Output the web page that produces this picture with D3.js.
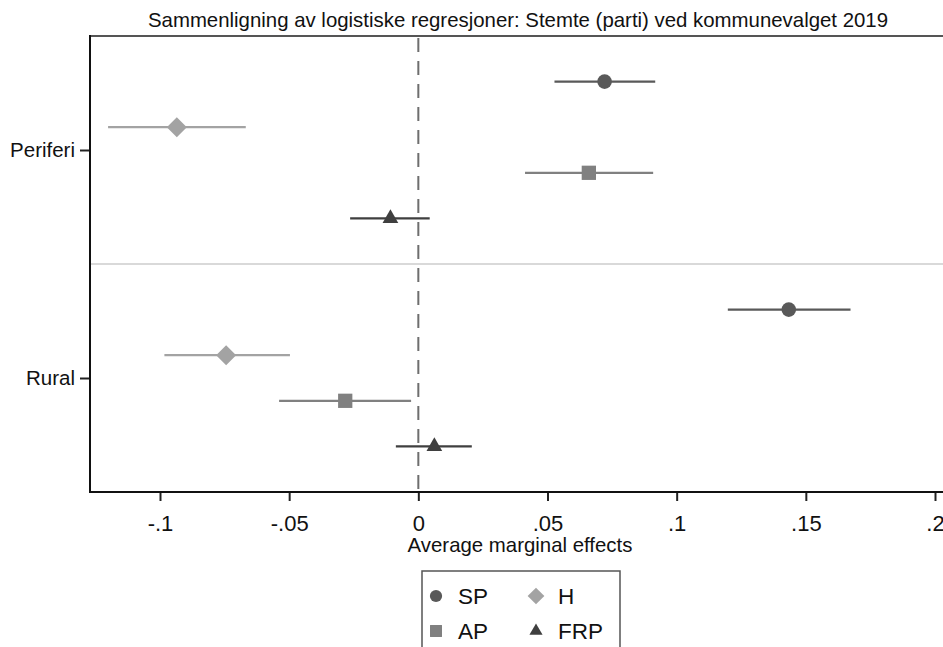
<!DOCTYPE html>
<html>
<head>
<meta charset="utf-8">
<script src="https://cdn.jsdelivr.net/npm/d3@7"></script>
<style>
  html, body { margin: 0; padding: 0; background: #fff; }
  svg { display: block; font-family: "Liberation Sans", Arial, sans-serif; }
</style>
</head>
<body>
<div id="chart"></div>
<script>
// groups on the y axis, parties within each group
const groups = ["Periferi", "Rural"]
const parties = ["SP", "H", "AP", "FRP"]

// average marginal effects and 95% CI, one value per group
const spEst = [0.0721, 0.1434]
const spLo = [0.0527, 0.1198]
const spHi = [0.0917, 0.1673]

const hEst = [-0.0935, -0.0744]
const hLo = [-0.1201, -0.0983]
const hHi = [-0.0668, -0.0497]

const apEst = [0.0660, -0.0283]
const apLo = [0.0413, -0.0539]
const apHi = [0.0909, -0.0028]

const frpEst = [-0.0108, 0.0062]
const frpLo = [-0.0264, -0.0087]
const frpHi = [0.0044, 0.0207]

const xTicks = [-0.1, -0.05, 0, 0.05, 0.1, 0.15, 0.2]
const xTickLabels = ["-.1", "-.05", "0", ".05", ".1", ".15", ".2"]

const series = [
    { name: "SP", est: spEst, lo: spLo, hi: spHi, offset: -0.3, color: "#595959", symbol: d3.symbolCircle, size: 168, rotate: 0 },
    { name: "H", est: hEst, lo: hLo, hi: hHi, offset: -0.1, color: "#a3a3a3", symbol: d3.symbolSquare, size: 200, rotate: 45 },
    { name: "AP", est: apEst, lo: apLo, hi: apHi, offset: 0.1, color: "#808080", symbol: d3.symbolSquare, size: 204, rotate: 0 },
    { name: "FRP", est: frpEst, lo: frpLo, hi: frpHi, offset: 0.3, color: "#3f3f3f", symbol: d3.symbolTriangle, size: 107, rotate: 0 }
]

const width = 943, height = 647
const plot = { left: 90, right: 943, top: 36, bottom: 492 }

const svg = d3.select('#chart')
    .append('svg')
    .attr('width', width)
    .attr('height', height)

const x = d3.scaleLinear()
    .domain([-0.1, 0.2])
    .range([160, 935])
const y = d3.scaleLinear()
    .domain([0.5, 2.5])
    .range([plot.top, plot.bottom])

// title
svg.append('text')
    .attr('x', 518)
    .attr('y', 27)
    .attr('text-anchor', 'middle')
    .attr('font-size', 20.4)
    .attr('fill', '#111')
    .text('Sammenligning av logistiske regresjoner: Stemte (parti) ved kommunevalget 2019')

// separator between groups
svg.append('line')
    .attr('x1', plot.left).attr('x2', plot.right)
    .attr('y1', y(1.5)).attr('y2', y(1.5))
    .attr('stroke', '#d9d9d9')
    .attr('stroke-width', 2)

// top frame
svg.append('line')
    .attr('x1', plot.left).attr('x2', plot.right)
    .attr('y1', plot.top).attr('y2', plot.top)
    .attr('stroke', '#555')
    .attr('stroke-width', 2)

// zero reference line
svg.append('line')
    .attr('x1', x(0)).attr('x2', x(0))
    .attr('y1', plot.top + 2).attr('y2', plot.bottom)
    .attr('stroke', '#6e6e6e')
    .attr('stroke-width', 2)
    .attr('stroke-dasharray', '14,9')

// x axis
const xAxis = g => g
    .attr('transform', `translate(0,${plot.bottom})`)
    .call(d3.axisBottom(x)
        .tickValues(xTicks)
        .tickFormat((d, i) => xTickLabels[i])
        .tickSize(9)
        .tickPadding(14))
    .call(g => g.select('.domain').remove())
    .call(g => g.selectAll('.tick line').attr('stroke', '#222').attr('stroke-width', 2))
    .call(g => g.selectAll('.tick text')
        .attr('font-size', 22)
        .attr('fill', '#111')
        .attr('font-family', '"Liberation Sans", Arial, sans-serif'))

svg.append('g').call(xAxis)

svg.append('line')
    .attr('x1', plot.left - 1).attr('x2', plot.right)
    .attr('y1', plot.bottom).attr('y2', plot.bottom)
    .attr('stroke', '#111')
    .attr('stroke-width', 2)

// y axis
const yAxis = g => g
    .attr('transform', `translate(${plot.left},0)`)
    .call(d3.axisLeft(y)
        .tickValues([1, 2])
        .tickFormat(d => groups[d - 1])
        .tickSize(10)
        .tickPadding(5))
    .call(g => g.select('.domain').remove())
    .call(g => g.selectAll('.tick line').attr('stroke', '#222').attr('stroke-width', 2))
    .call(g => g.selectAll('.tick text')
        .attr('font-size', 20.5)
        .attr('fill', '#111')
        .attr('font-family', '"Liberation Sans", Arial, sans-serif'))

svg.append('g').call(yAxis)

svg.append('line')
    .attr('x1', plot.left).attr('x2', plot.left)
    .attr('y1', plot.top - 1).attr('y2', plot.bottom + 1)
    .attr('stroke', '#111')
    .attr('stroke-width', 2)

svg.append('text')
    .attr('x', 520)
    .attr('y', 552)
    .attr('text-anchor', 'middle')
    .attr('font-size', 20.4)
    .attr('fill', '#111')
    .text('Average marginal effects')

// confidence intervals and point estimates
series.forEach(s => {
    const rows = groups.map((gName, i) => ({ pos: i + 1 + s.offset, est: s.est[i], lo: s.lo[i], hi: s.hi[i] }))
    const g = svg.append('g').attr('class', 'series-' + s.name)

    g.selectAll('line')
        .data(rows)
        .join('line')
        .attr('x1', d => x(d.lo))
        .attr('x2', d => x(d.hi))
        .attr('y1', d => y(d.pos))
        .attr('y2', d => y(d.pos))
        .attr('stroke', s.color)
        .attr('stroke-width', 2.2)

    g.selectAll('path')
        .data(rows)
        .join('path')
        .attr('transform', d => `translate(${x(d.est)},${y(d.pos)}) rotate(${s.rotate})`)
        .attr('d', d3.symbol().type(s.symbol).size(s.size))
        .attr('fill', s.color)
})

// legend
const legend = svg.append('g')
legend.append('rect')
    .attr('x', 422).attr('y', 571)
    .attr('width', 198).attr('height', 100)
    .attr('fill', '#fff')
    .attr('stroke', '#555')
    .attr('stroke-width', 1.5)

const legendOrder = ["SP", "H", "AP", "FRP"]
legendOrder.forEach((name, i) => {
    const s = series.find(d => d.name === name)
    const lx = 436 + (i % 2) * 100
    const ly = 596 + Math.floor(i / 2) * 35
    legend.append('path')
        .attr('transform', `translate(${lx},${ly}) rotate(${s.rotate})`)
        .attr('d', d3.symbol().type(s.symbol).size(s.size * 0.7))
        .attr('fill', s.color)
    legend.append('text')
        .attr('x', lx + 22)
        .attr('y', ly)
        .attr('dy', '0.36em')
        .attr('font-size', 22.5)
        .attr('fill', '#111')
        .text(name)
})
</script>
</body>
</html>
